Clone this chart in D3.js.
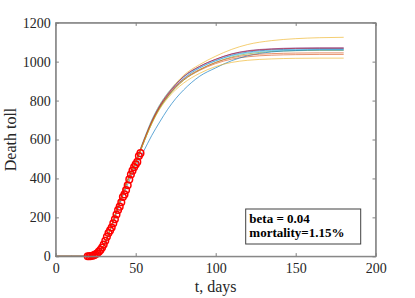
<!DOCTYPE html>
<html><head><meta charset="utf-8">
<script src="https://cdn.jsdelivr.net/npm/d3@7"></script>
<style>body{margin:0;background:#fff}svg{display:block}</style>
</head><body>
<svg id="c" width="415" height="298"></svg>
<script>
// ---- data ----
const xTicks = [0, 50, 100, 150, 200];
const yTicks = [0, 200, 400, 600, 800, 1000, 1200];
const obsDays = [20,21,22,23,24,25,26,27,28,29,30,31,32,33,34,35,36,37,38,39,40,41,42,43,44,45,46,47,48,49,50,51,52,53];
const obsDeaths = [0,0,1,3,6,10,16,24,33,45,60,80,100,120,133,148,170,190,215,238,255,278,305,318,340,365,395,420,440,458,472,485,515,530];
const simT = [0,10,20,25,30,35,40,45,50,55,60,65,70,75,80,90,100,110,120,135,150,165,180];
const simBlue1   = [0,0,0,8,55,160,280,388,478,585,683,762,822,872,913,968,1005,1033,1049,1060,1064,1066,1066];
const simOrange1 = [0,0,0,8,55,160,280,390,482,590,688,765,822,868,905,955,990,1013,1025,1033,1036,1037,1037];
const simYellow1 = [0,0,0,8,56,162,284,395,488,596,698,778,838,888,930,985,1028,1063,1088,1108,1118,1123,1125];
const simPurple  = [0,0,0,8,55,160,280,390,480,590,690,770,830,880,922,975,1012,1040,1056,1066,1070,1071,1071];
const simGreen   = [0,0,0,8,55,160,280,388,478,584,682,760,818,866,905,958,996,1024,1040,1052,1056,1058,1058];
const simLBlue   = [0,0,0,8,56,162,284,395,488,598,700,778,838,885,922,970,1004,1030,1045,1056,1060,1062,1062];
const simDRed    = [0,0,0,8,55,160,282,392,483,592,692,772,833,882,924,976,1012,1039,1054,1064,1068,1069,1069];
const simBlue2   = [0,0,0,7,52,152,268,370,460,540,620,690,755,810,855,925,968,1005,1030,1050,1057,1060,1060];
const simOrange2 = [0,0,0,8,55,160,281,391,484,592,690,768,826,873,910,960,996,1020,1033,1041,1044,1045,1045];
const simYellow2 = [0,0,0,8,55,160,279,388,478,584,680,756,812,856,890,940,975,996,1007,1014,1017,1018,1018];
const simSeries = [simBlue1, simOrange1, simYellow1, simPurple, simGreen, simLBlue, simDRed, simBlue2, simOrange2, simYellow2];
const lineColors = ["#0072BD","#D95319","#EDB120","#7E2F8E","#77AC30","#4DBEEE","#A2142F","#0072BD","#D95319","#EDB120"];
const annotLines = ["beta = 0.04", "mortality=1.15%"];

// ---- layout ----
const L = 55.7, R = 375.7, T = 22.7, B = 256.3;
const svg = d3.select("#c");
const x = d3.scaleLinear().domain([0, 200]).range([L, R]);
const y = d3.scaleLinear().domain([0, 1200]).range([B, T]);
const font = "'Liberation Serif','Times New Roman',serif";
const axCol = "#808080", txtCol = "#262626";

// curves
const line = d3.line().x(d => x(d[0])).y(d => y(d[1])).curve(d3.curveMonotoneX);
simSeries.forEach((s, i) => {
  svg.append("path")
    .attr("d", line(simT.map((t, j) => [t, s[j]])))
    .attr("fill", "none").attr("stroke", lineColors[i])
    .attr("stroke-width", 0.9).attr("stroke-opacity", 0.7);
});

// observations
svg.append("g").selectAll("circle").data(obsDays).join("circle")
  .attr("cx", d => x(d)).attr("cy", (d, i) => y(obsDeaths[i]))
  .attr("r", 3.3).attr("fill", "none").attr("stroke", "#FF0000").attr("stroke-width", 1.5);

// box
svg.append("rect").attr("x", L).attr("y", T).attr("width", R - L).attr("height", B - T)
  .attr("fill", "none").attr("stroke", axCol).attr("stroke-width", 1);

// axes
const tl = 3.2;
const fmt = d3.format("d");
const xb = svg.append("g").attr("transform", `translate(0,${B})`)
  .call(d3.axisBottom(x).tickValues(xTicks).tickFormat(fmt).tickSizeInner(-tl).tickSizeOuter(0).tickPadding(7));
const xt = svg.append("g").attr("transform", `translate(0,${T})`)
  .call(d3.axisTop(x).tickValues(xTicks).tickSizeInner(-tl).tickSizeOuter(0).tickFormat(""));
const yl = svg.append("g").attr("transform", `translate(${L},0)`)
  .call(d3.axisLeft(y).tickValues(yTicks).tickFormat(fmt).tickSizeInner(-tl).tickSizeOuter(0).tickPadding(5));
const yr = svg.append("g").attr("transform", `translate(${R},0)`)
  .call(d3.axisRight(y).tickValues(yTicks).tickSizeInner(-tl).tickSizeOuter(0).tickFormat(""));
[xb, xt, yl, yr].forEach(g => {
  g.attr("font-family", null).attr("font-size", null);
  g.select(".domain").attr("stroke", axCol);
  g.selectAll(".tick line").attr("stroke", axCol);
  g.selectAll("text").attr("fill", txtCol).style("font-family", font).style("font-size", "14px");
});

// axis labels
svg.append("text").attr("x", (L + R) / 2).attr("y", 292).attr("text-anchor", "middle")
  .style("font-family", font).style("font-size", "16px").attr("fill", txtCol).text("t, days");
svg.append("text").attr("transform", `translate(16,${(T + B) / 2}) rotate(-90)`).attr("text-anchor", "middle")
  .style("font-family", font).style("font-size", "16px").attr("fill", txtCol).text("Death toll");

// annotation box
svg.append("rect").attr("x", 245.7).attr("y", 209).attr("width", 115).attr("height", 35)
  .attr("fill", "#fff").attr("stroke", "#404040").attr("stroke-width", 1);
annotLines.forEach((t, i) => {
  svg.append("text").attr("x", 249.3).attr("y", 222.7 + i * 14.6)
    .style("font-family", font).style("font-size", "13px").style("font-weight", "bold")
    .attr("fill", "#000").text(t);
});
</script>
</body></html>
